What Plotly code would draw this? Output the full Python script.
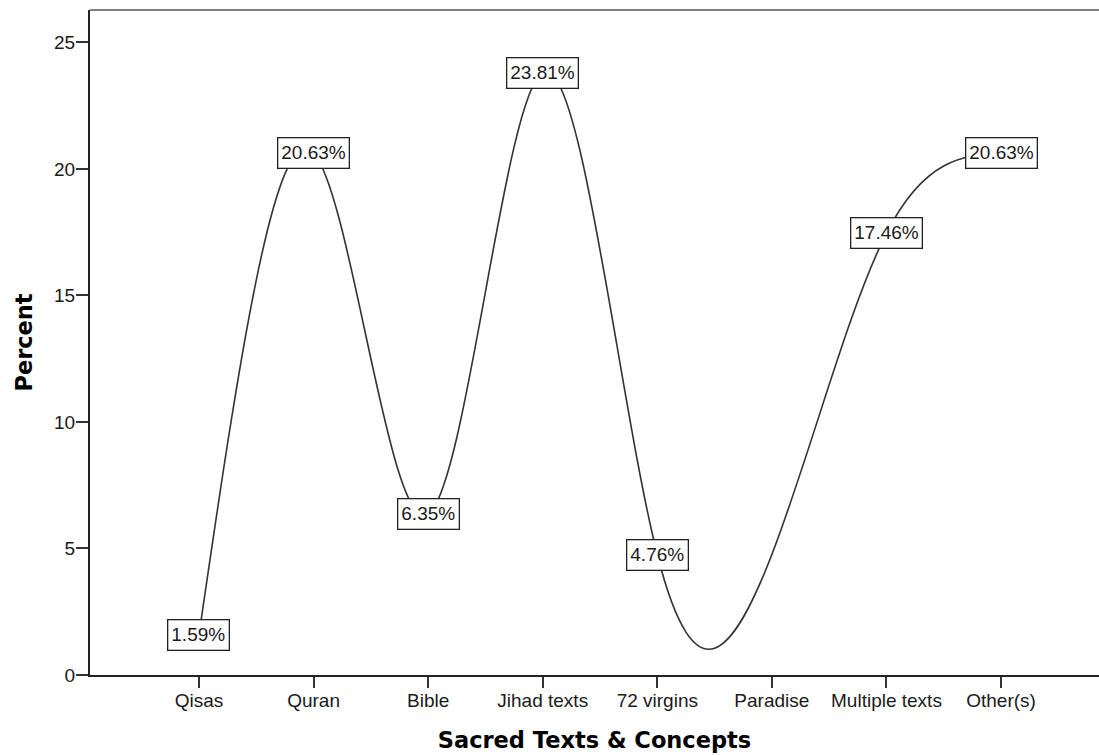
import numpy as np
import plotly.graph_objects as go

# Sacred texts & concepts: share of responses (percent)
categories = ["Qisas", "Quran", "Bible", "Jihad texts", "72 virgins",
              "Paradise", "Multiple texts", "Other(s)"]
percent = [1.59, 20.63, 6.35, 23.81, 4.76, 4.76, 17.46, 20.63]
labelled = [True, True, True, True, True, False, True, True]
y_ticks = [0, 5, 10, 15, 20, 25]

x_pos = np.arange(len(categories), dtype=float)
y_val = np.asarray(percent, dtype=float)
n = len(y_val)

# Natural cubic spline through the points (unit spacing): solve for the
# second derivatives, then express each segment as a cubic Bezier.
A = np.zeros((n, n))
rhs = np.zeros(n)
A[0, 0] = A[-1, -1] = 1.0
for i in range(1, n - 1):
    A[i, i - 1], A[i, i], A[i, i + 1] = 1.0, 4.0, 1.0
    rhs[i] = 6.0 * (y_val[i + 1] - 2 * y_val[i] + y_val[i - 1])
M = np.linalg.solve(A, rhs)
slope = np.empty(n)
for i in range(n - 1):
    slope[i] = (y_val[i + 1] - y_val[i]) - (2 * M[i] + M[i + 1]) / 6.0
slope[-1] = (y_val[-1] - y_val[-2]) + (M[-2] + 2 * M[-1]) / 6.0

path = f"M {x_pos[0]:.4f},{y_val[0]:.4f}"
for i in range(n - 1):
    path += (f" C {x_pos[i] + 1/3:.4f},{y_val[i] + slope[i] / 3:.4f}"
             f" {x_pos[i + 1] - 1/3:.4f},{y_val[i + 1] - slope[i + 1] / 3:.4f}"
             f" {x_pos[i + 1]:.4f},{y_val[i + 1]:.4f}")

TICK_FONT = dict(family="Liberation Sans, Arial, sans-serif", size=19, color="#1a1a1a")
TITLE_FONT = dict(family="DejaVu Sans, Verdana, sans-serif", size=22.5, color="#000000",
                  weight="bold")

fig = go.Figure()
fig.add_trace(go.Scatter(
    x=x_pos, y=y_val, mode="markers",
    marker=dict(size=8, opacity=0),
    customdata=categories,
    hovertemplate="%{customdata}: %{y:.2f}%<extra></extra>",
    showlegend=False,
))

shapes = [
    dict(type="path", path=path, xref="x", yref="y",
         line=dict(color="#333333", width=1.6)),
    # top frame line
    dict(type="line", xref="paper", yref="paper", x0=0, x1=1, y0=1, y1=1,
         line=dict(color="#808080", width=2)),
]

annotations = []
for xi, v, show in zip(x_pos, percent, labelled):
    if not show:
        continue
    annotations.append(dict(
        x=xi, y=v, xref="x", yref="y", text=f"{v:.2f}%", showarrow=False,
        xanchor="center", yanchor="middle",
        font=TICK_FONT, bgcolor="#ffffff", bordercolor="#222222",
        borderwidth=1.3, borderpad=3, height=23,
    ))

fig.update_layout(
    width=1099, height=755,
    margin=dict(l=90, r=0, t=10, b=80),
    paper_bgcolor="#ffffff", plot_bgcolor="#ffffff",
    shapes=shapes, annotations=annotations,
    xaxis=dict(
        range=[-0.951, 7.855], tickmode="array",
        tickvals=list(x_pos), ticktext=categories,
        ticks="outside", ticklen=11, tickwidth=2, tickcolor="#333333",
        ticklabelstandoff=-4,
        showline=True, linecolor="#222222", linewidth=2,
        showgrid=False, zeroline=False, tickfont=TICK_FONT,
        title=dict(text="Sacred Texts & Concepts", font=TITLE_FONT, standoff=22),
    ),
    yaxis=dict(
        range=[0, 26.28], tickmode="array", tickvals=y_ticks,
        ticks="outside", ticklen=12, tickwidth=2, tickcolor="#333333",
        ticklabelstandoff=-3,
        showline=True, linecolor="#222222", linewidth=2,
        showgrid=False, zeroline=False, tickfont=TICK_FONT,
        title=dict(text="Percent", font=TITLE_FONT),
    ),
)

fig.write_html("out.html")
